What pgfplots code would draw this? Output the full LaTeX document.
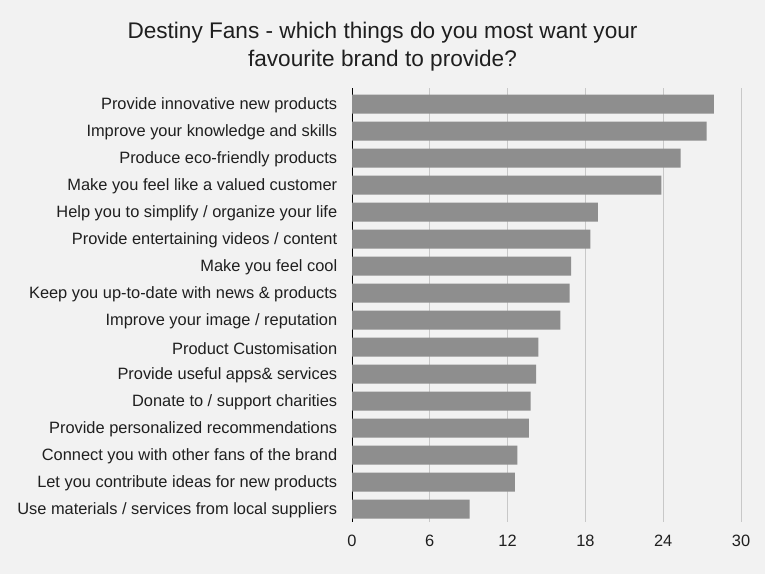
\documentclass[border=0pt]{standalone}
\usepackage{pgfplots}
\pgfplotsset{compat=1.18}
\usepackage{fontspec}
\setmainfont{Liberation Sans}
\definecolor{bg}{HTML}{F2F2F2}
\definecolor{barc}{HTML}{8E8E8E}
\definecolor{gridc}{HTML}{C8C8C8}

\begin{document}
\begin{tikzpicture}
\fill[bg] (0pt,0pt) rectangle (765pt,-574pt);
\node[align=center, font=\fontsize{22.6}{28}\selectfont, text=black!88] at (382.5pt,-47pt) {Destiny Fans - which things do you most want your\\favourite brand to provide?};
\begin{axis}[
  at={(352pt,-522pt)}, anchor=south west,
  scale only axis, width=389pt, height=434pt,
  xbar, bar width=19pt,
  xmin=0, xmax=30, xtick={0,6,12,18,24,30},
  ymin=-0.6, ymax=15.48, y dir=reverse,
  ytick={0,...,15},
  yticklabels={Provide innovative new products, Improve your knowledge and skills, Produce eco-friendly products, Make you feel like a valued customer, Help you to simplify / organize your life, Provide entertaining videos / content, Make you feel cool, Keep you up-to-date with news \& products, Improve your image / reputation, Product Customisation, Provide useful apps\& services, Donate to / support charities, Provide personalized recommendations, Connect you with other fans of the brand, Let you contribute ideas for new products, Use materials / services from local suppliers},
  axis x line*=bottom, axis y line*=left,
  x axis line style={draw=none},
  y axis line style={black, line width=0.8pt},
  xmajorgrids, major grid style={gridc, line width=0.8pt},
  major x tick style={draw=none},
  major y tick style={draw=none},
  ticklabel style={font=\fontsize{16.4}{18}\selectfont, text=black!88},
  yticklabel style={xshift=-7pt, yshift=-1.5pt},
  xticklabel style={yshift=-9pt},
  /pgf/number format/assume math mode=true,
  axis background/.style={fill=none},
]
\addplot[fill=barc, draw=none] coordinates {
  (27.9,0) (27.35,1) (25.35,2) (23.85,3) (18.97,4) (18.38,5) (16.89,6) (16.79,7)
  (16.07,8) (14.37,9) (14.19,10) (13.78,11) (13.65,12) (12.75,13) (12.57,14) (9.07,15)
};
\end{axis}
\end{tikzpicture}
\end{document}
